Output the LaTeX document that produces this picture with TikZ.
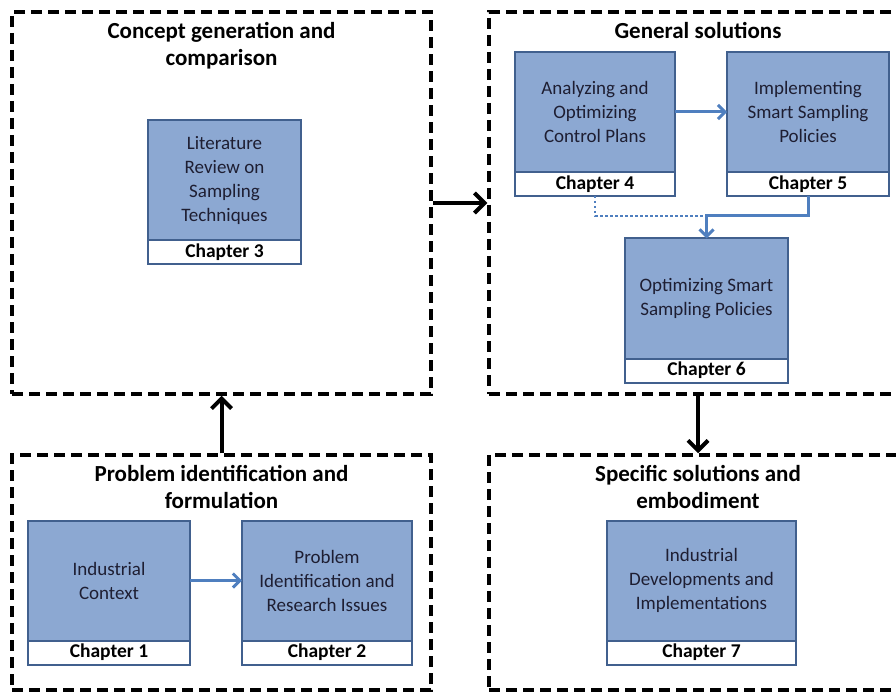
\documentclass[tikz,border=0pt]{standalone}
\usepackage{fontspec}
\setmainfont{Carlito}
\usetikzlibrary{positioning,arrows.meta}
\definecolor{topicfill}{HTML}{8CA8D2}
\definecolor{topicline}{HTML}{41608E}
\definecolor{flowblue}{HTML}{4F7FBF}
\definecolor{topictext}{HTML}{1E1E32}

\begin{document}
\begin{tikzpicture}[x=1pt,y=-1pt,
  frame/.style={draw,line width=3.5pt,dash pattern=on 11pt off 6pt},
  frametitle/.style={font=\bfseries\fontsize{23}{27}\selectfont,align=center,inner sep=0pt},
  topic/.style={draw=topicline,fill=topicfill,line width=2pt,outer sep=0pt,minimum height=120pt,
    align=center,text=topictext,font=\fontsize{19}{24}\selectfont},
  chapter/.style={draw=topicline,fill=white,line width=2pt,outer sep=0pt,minimum height=24pt,
    inner sep=0pt,font=\bfseries\fontsize{19.5}{22}\selectfont},
  bigarrow/.style={line width=4pt,-{Straight Barb[length=10pt,width=20pt]}},
  flow/.style={draw=flowblue,line width=3pt,-{Straight Barb[length=7pt,width=14pt]}}]
\clip[use as bounding box] (0,0) rectangle (896,692);

% the four phases
\node[frame,minimum width=419pt,minimum height=382pt] (concept) at (221.5,203) {};
\node[frame,minimum width=418pt,minimum height=382pt] (general) at (698,203) {};
\node[frame,minimum width=419pt,minimum height=235pt] (problem) at (221.5,572.5) {};
\node[frame,minimum width=418pt,minimum height=235pt] (specific) at (698,572.5) {};

\node[frametitle,anchor=north] at ([yshift=-12pt]concept.north) {Concept generation and\\comparison};
\node[frametitle,anchor=north] at ([yshift=-12pt]general.north) {General solutions};
\node[frametitle,anchor=north] at ([yshift=-12pt]problem.north) {Problem identification and\\formulation};
\node[frametitle,anchor=north] at ([yshift=-12pt]specific.north) {Specific solutions and\\embodiment};

% chapters
\foreach \num/\cx/\cy/\w/\txt in {
  1/109/580.5/162/{Industrial\\Context},
  2/327/580.5/170/{Problem\\Identification and\\Research Issues},
  3/224.5/180.5/153/{Literature\\Review on\\Sampling\\Techniques},
  4/595/112/160/{Analyzing and\\Optimizing\\Control Plans},
  5/808/112/162/{Implementing\\Smart Sampling\\Policies},
  6/706.5/298.5/163/{Optimizing Smart\\Sampling Policies},
  7/701.5/580.5/189/{Industrial\\Developments and\\Implementations}}
{ \node[topic,minimum width=\w pt] (t\num) at (\cx,\cy) {\txt};
  \node[chapter,minimum width=\w pt,below=0pt of t\num] (c\num) {Chapter \num};}

% links
\draw[bigarrow] (concept.east) -- (general.west);
\draw[bigarrow] (problem.north) -- (concept.south);
\draw[bigarrow] (general.south) -- (specific.north);
\draw[flow] (t1) -- (t2);
\draw[flow] (t4) -- (t5);
\coordinate (merge) at (706.5,216);
\draw[flowblue,line width=2.5pt,dash pattern=on 2.5pt off 2.5pt] (c4.south) |- (merge);
\draw[flow] (c5.south) |- (merge) -- (t6.north);
\end{tikzpicture}
\end{document}
